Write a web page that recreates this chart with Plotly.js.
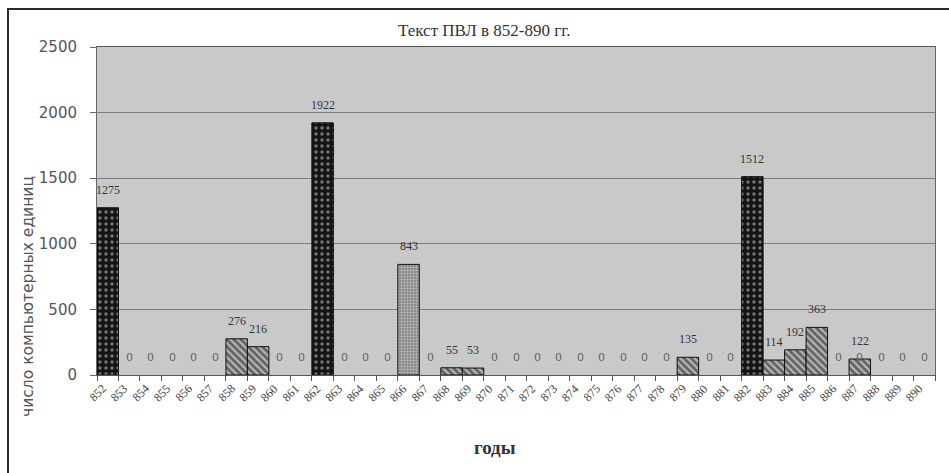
<!DOCTYPE html>
<html>
<head>
<meta charset="utf-8">
<script src="https://cdn.plot.ly/plotly-3.0.1.min.js"></script>
<style>
  html, body { margin: 0; padding: 0; background: #fff; }
  #wrap { position: relative; width: 949px; height: 473px; }
  #chart { width: 949px; height: 473px; }
  #frame { position: absolute; left: 7px; top: 8px; right: 0; bottom: 0;
           border-left: 2px solid #2a2a2a; border-top: 2px solid #2a2a2a;
           pointer-events: none; }
</style>
</head>
<body>
<div id="wrap">
  <div id="chart"></div>
  <div id="frame"></div>
</div>
<script>
// Годы летописи (852–890)
const years = ["852","853","854","855","856","857","858","859","860","861",
               "862","863","864","865","866","867","868","869","870","871",
               "872","873","874","875","876","877","878","879","880","881",
               "882","883","884","885","886","887","888","889","890"];

// Число компьютерных единиц по годам
const units = [1275,0,0,0,0,0,276,216,0,0,
               1922,0,0,0,843,0,55,53,0,0,
               0,0,0,0,0,0,0,135,0,0,
               1512,114,192,363,0,122,0,0,0];

// Тип заливки столбца: "dense" – тёмная с точками, "hatch" – штриховка, "light" – светлая сетка
const fillKind = ["dense","none","none","none","none","none","hatch","hatch","none","none",
                  "dense","none","none","none","light","none","hatch","hatch","none","none",
                  "none","none","none","none","none","none","none","hatch","none","none",
                  "dense","hatch","hatch","hatch","none","hatch","none","none","none"];

// Дополнительные нулевые подписи второго ряда
const extraZeroYears = ["887"];

const title = "Текст ПВЛ в 852-890 гг.";
const xTitle = "годы";
const yTitle = "число компьютерных единиц";

const styles = {
  dense: { shape: ".", fg: "#d8d8d8", bg: "#141414", size: 6, sol: 0.25 },
  hatch: { shape: "\\", fg: "#111111", bg: "#b5b5b5", size: 5, sol: 0.55 },
  light: { shape: "+", fg: "#e6e6e6", bg: "#8c8c8c", size: 3, sol: 0.35 }
};

const serif = "Liberation Serif, Times New Roman, serif";
const sans = "DejaVu Sans, sans-serif";

// По одному ряду столбцов на каждый тип заливки
const traces = Object.keys(styles).map(kind => {
  const s = styles[kind];
  return {
    type: "bar",
    name: kind,
    x: years.map((_, i) => i),
    y: units.map((v, i) => fillKind[i] === kind ? v : null),
    marker: {
      color: s.bg,
      line: { color: "#111", width: 1 },
      pattern: { shape: s.shape, fgcolor: s.fg, size: s.size, solidity: s.sol, fillmode: "overlay" }
    },
    hoverinfo: "y"
  };
});

const labelFont = { family: serif, size: 12, color: "#333" };
const zeroFont = { family: sans, size: 11, color: "#666" };

// Подписи значений над столбцами
const annotations = years.map((yr, i) => ({
  x: i, y: units[i], xref: "x", yref: "y",
  text: String(units[i]),
  showarrow: false, yshift: 18,
  font: units[i] === 0 ? zeroFont : labelFont
}));
extraZeroYears.forEach(yr => annotations.push({
  x: years.indexOf(yr), y: 0, xref: "x", yref: "y", text: "0",
  showarrow: false, yshift: 18, font: zeroFont
}));

// Наклонные подписи годов под осью
years.forEach((yr, i) => annotations.push({
  x: i, y: 0, xref: "x", yref: "paper", text: yr,
  textangle: -45, xanchor: "right", yanchor: "top",
  xshift: 4, yshift: -4, showarrow: false,
  font: { family: serif, size: 12, color: "#444" }
}));

// Заголовок и подписи осей
annotations.push({
  text: title, xref: "paper", yref: "paper", x: 0.463, y: 1.0, yanchor: "bottom",
  yshift: 5, showarrow: false,
  font: { family: serif, size: 17, color: "#333" }
});
annotations.push({
  text: xTitle, xref: "paper", yref: "paper", x: 0.475, y: 0, yanchor: "middle",
  yshift: -72, showarrow: false,
  font: { family: serif, size: 19, color: "#333", weight: "bold" }
});
annotations.push({
  text: yTitle, xref: "paper", yref: "paper", x: 0, xanchor: "center",
  y: 0.238, yanchor: "middle",
  xshift: -69, textangle: -90, showarrow: false,
  font: { family: sans, size: 15.5, color: "#555" }
});

const layout = {
  width: 949, height: 473,
  margin: { l: 97, r: 14, t: 47, b: 98 },
  paper_bgcolor: "#ffffff",
  plot_bgcolor: "#c9c9c9",
  bargap: 0,
  barmode: "overlay",
  showlegend: false,
  xaxis: {
    type: "linear",
    range: [-0.5, years.length - 0.5],
    tickmode: "array",
    // Засечки между категориями
    tickvals: years.map((_, i) => i - 0.5).concat([years.length - 0.5]),
    showticklabels: false,
    ticks: "outside", ticklen: 5, tickcolor: "#555",
    showgrid: false,
    showline: true, linecolor: "#555", linewidth: 1, mirror: true,
    zeroline: false
  },
  yaxis: {
    range: [0, 2500],
    tickvals: [0, 500, 1000, 1500, 2000, 2500],
    ticks: "outside", ticklen: 6, tickcolor: "#666",
    showline: true, linecolor: "#666", linewidth: 1, mirror: true,
    showgrid: true, gridcolor: "#7d7d7d", gridwidth: 1,
    zeroline: false,
    ticklabelstandoff: 10,
    tickfont: { family: sans, size: 15, color: "#555" }
  },
  annotations: annotations
};

Plotly.newPlot("chart", traces, layout, { displayModeBar: false, staticPlot: true });
</script>
</body>
</html>
